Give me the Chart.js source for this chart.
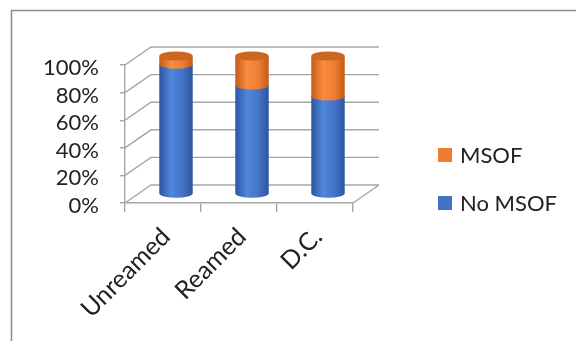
<!DOCTYPE html>
<html>
<head>
<meta charset="utf-8">
<script src="https://cdn.jsdelivr.net/npm/chart.js@4/dist/chart.umd.min.js"></script>
<style>
  html, body { margin: 0; padding: 0; background: #fff; }
  canvas { display: block; }
</style>
</head>
<body>
<canvas id="c" width="576" height="341"></canvas>
<script>
// Percent of patients per nailing technique
const categories = ['Unreamed', 'Reamed', 'D.C.'];
const noMsof = [94, 79, 71];
const msof = [6, 21, 29];
const seriesNames = ['No MSOF', 'MSOF'];

const FONT = 'Lato, "Open Sans", sans-serif';
const TEXT = '#222222';
const GRID = '#a6a6a6';
const DX = 26, DY = 18;          // depth of the 3D box
const RY = 4.5;                  // vertical radius of cylinder ellipses

const palette = {
  blue:   { dark: '#2d559e', light: '#5086dc', mid: '#4473c6', top: '#3a66b8' },
  orange: { dark: '#c55a16', light: '#f98c40', mid: '#ee7e32', top: '#cc6620' }
};

// outer frame line (top and left edges)
const framePlugin = {
  id: 'frame',
  beforeDraw(chart) {
    const ctx = chart.ctx;
    ctx.save();
    ctx.strokeStyle = '#8c8c8c';
    ctx.lineWidth = 1.5;
    ctx.beginPath();
    ctx.moveTo(11.5, chart.height);
    ctx.lineTo(11.5, 10.5);
    ctx.lineTo(chart.width, 10.5);
    ctx.stroke();
    ctx.restore();
  }
};

// side wall, back wall gridlines and floor edge
const wallsPlugin = {
  id: 'walls',
  beforeDatasetsDraw(chart) {
    const { ctx, chartArea: a, scales: { y } } = chart;
    ctx.save();
    ctx.strokeStyle = GRID;
    ctx.lineWidth = 1.4;
    ctx.beginPath();
    y.ticks.forEach(t => {
      const py = y.getPixelForValue(t.value);
      ctx.moveTo(a.left, py);
      ctx.lineTo(a.left + DX, py - DY);
      ctx.lineTo(a.right + DX, py - DY);
    });
    ctx.moveTo(a.right, a.bottom);
    ctx.lineTo(a.right + DX, a.bottom - DY);
    ctx.stroke();
    ctx.restore();
  },
  beforeDatasetDraw() { return false; }
};

function bodyGradient(ctx, x0, x1, c) {
  const g = ctx.createLinearGradient(x0, 0, x1, 0);
  g.addColorStop(0, c.dark);
  g.addColorStop(0.35, c.light);
  g.addColorStop(0.7, c.mid);
  g.addColorStop(1, c.dark);
  return g;
}

function drawSegment(ctx, cx, rx, yTop, yBot, c, withTop) {
  ctx.fillStyle = bodyGradient(ctx, cx - rx, cx + rx, c);
  ctx.beginPath();
  ctx.moveTo(cx - rx, yTop);
  ctx.lineTo(cx - rx, yBot);
  ctx.ellipse(cx, yBot, rx, RY, 0, Math.PI, 0, true);
  ctx.lineTo(cx + rx, yTop);
  ctx.closePath();
  ctx.fill();
  if (withTop) {
    ctx.fillStyle = c.top;
    ctx.beginPath();
    ctx.ellipse(cx, yTop, rx, RY, 0, 0, Math.PI * 2);
    ctx.fill();
  }
}

// stacked cylinders placed at mid depth of the box
const cylinderPlugin = {
  id: 'cylinders',
  afterDatasetsDraw(chart) {
    const ctx = chart.ctx;
    const metas = chart.data.datasets.map((d, i) => chart.getDatasetMeta(i));
    ctx.save();
    categories.forEach((cat, i) => {
      metas.forEach((meta, d) => {
        const el = meta.data[i];
        const p = el.getProps(['x', 'y', 'base', 'width'], true);
        const cx = p.x + DX / 2;
        const rx = p.width / 2;
        const top = Math.min(p.y, p.base) - DY / 2;
        const bot = Math.max(p.y, p.base) - DY / 2;
        const c = chart.data.datasets[d].shade;
        drawSegment(ctx, cx, rx, top, bot, c, d === metas.length - 1);
      });
    });
    ctx.restore();
  }
};

// legend on the right, top series first
const legendPlugin = {
  id: 'sideLegend',
  afterDraw(chart) {
    const ctx = chart.ctx;
    const sets = chart.data.datasets.slice().reverse();
    ctx.save();
    ctx.font = '22px ' + FONT;
    ctx.textBaseline = 'middle';
    ctx.textAlign = 'left';
    sets.forEach((ds, k) => {
      const yc = 155 + k * 48;
      ctx.fillStyle = ds.backgroundColor;
      ctx.fillRect(438, yc - 7, 14, 14);
      ctx.fillStyle = TEXT;
      ctx.fillText(ds.label, 460, yc + 1);
    });
    ctx.restore();
  }
};

new Chart(document.getElementById('c'), {
  type: 'bar',
  data: {
    labels: categories,
    datasets: [
      { label: seriesNames[0], data: noMsof, backgroundColor: '#4472c4', shade: palette.blue },
      { label: seriesNames[1], data: msof, backgroundColor: '#ed7d31', shade: palette.orange }
    ]
  },
  options: {
    responsive: false,
    devicePixelRatio: 1,
    animation: false,
    layout: { padding: { top: 65, right: 223, bottom: 0, left: 0 } },
    datasets: { bar: { categoryPercentage: 1, barPercentage: 0.44 } },
    plugins: { legend: { display: false }, tooltip: { enabled: false } },
    scales: {
      x: {
        stacked: true,
        grid: { drawOnChartArea: false, tickLength: 9, color: GRID, lineWidth: 1.4 },
        border: { display: true, color: GRID, width: 1.4 },
        ticks: {
          color: TEXT, font: { family: FONT, size: 25 },
          minRotation: 45, maxRotation: 45, autoSkip: false, padding: 10, labelOffset: 3
        },
        afterFit(scale) { scale.height = 138; }
      },
      y: {
        stacked: true,
        min: 0, max: 100,
        grid: { drawOnChartArea: false, tickLength: 5, color: GRID, lineWidth: 1.4 },
        border: { display: true, color: GRID, width: 1.4 },
        ticks: {
          stepSize: 20, autoSkip: false, color: TEXT, font: { family: FONT, size: 22 }, padding: 21,
          labelOffset: 3,
          callback: v => v + '%'
        },
        afterFit(scale) { scale.width = 125; }
      }
    }
  },
  plugins: [framePlugin, wallsPlugin, cylinderPlugin, legendPlugin]
});
</script>
</body>
</html>
